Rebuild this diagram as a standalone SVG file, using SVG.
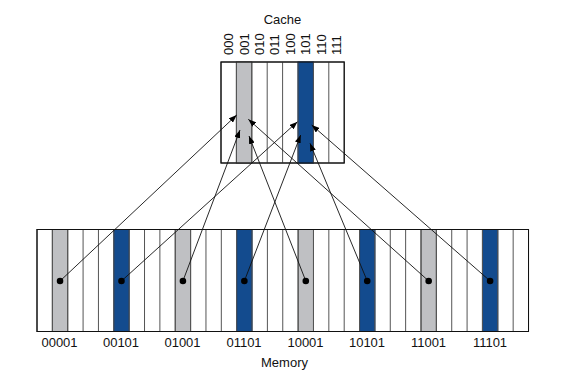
<svg xmlns="http://www.w3.org/2000/svg" width="588" height="381" viewBox="0 0 588 381">
<defs>
<marker id="ah" markerUnits="userSpaceOnUse" markerWidth="8" markerHeight="6" refX="8" refY="3" orient="auto">
<path d="M0,0 L8,3 L0,6 z" fill="#000"/>
</marker>
<style>
text{font-family:"Liberation Sans",Arial,sans-serif;font-size:13px;fill:#111}
.sep{stroke:#555;stroke-width:1;fill:none}
.box{fill:#fff;stroke:#111;stroke-width:1}
.g{fill:#bfc0c3;stroke:#444;stroke-width:1}
.b{fill:#134b8e;stroke:#0d2f5c;stroke-width:1}
.c{stroke:#111;stroke-width:0.9;fill:none;marker-end:url(#ah)}
.dot{fill:#000}
</style>
</defs>
<rect width="588" height="381" fill="#fff"/>

<g id="cache">
<text x="282.5" y="24" text-anchor="middle">Cache</text>
<rect class="box" x="221" y="62" width="123.2" height="101"/>
<rect class="g" x="236.4" y="62" width="15.4" height="101"/>
<rect class="b" x="298" y="62" width="15.4" height="101"/>
<path class="sep" d="M236.4,62V163M251.8,62V163M267.2,62V163M282.6,62V163M298,62V163M313.4,62V163M328.8,62V163"/>
<rect x="221" y="62" width="123.2" height="101" fill="none" stroke="#111" stroke-width="1"/>
<text transform="translate(233.2,55) rotate(-90)">000</text>
<text transform="translate(248.6,55) rotate(-90)">001</text>
<text transform="translate(264,55) rotate(-90)">010</text>
<text transform="translate(279.4,55) rotate(-90)">011</text>
<text transform="translate(294.8,55) rotate(-90)">100</text>
<text transform="translate(310.2,55) rotate(-90)">101</text>
<text transform="translate(325.6,55) rotate(-90)">110</text>
<text transform="translate(341,55) rotate(-90)">111</text>
</g>

<g id="memory">
<rect class="box" x="37" y="229.5" width="491.52" height="102"/>
<rect class="g" x="52.36" y="229.5" width="15.36" height="102"/>
<rect class="b" x="113.8" y="229.5" width="15.36" height="102"/>
<rect class="g" x="175.24" y="229.5" width="15.36" height="102"/>
<rect class="b" x="236.68" y="229.5" width="15.36" height="102"/>
<rect class="g" x="298.12" y="229.5" width="15.36" height="102"/>
<rect class="b" x="359.56" y="229.5" width="15.36" height="102"/>
<rect class="g" x="421" y="229.5" width="15.36" height="102"/>
<rect class="b" x="482.44" y="229.5" width="15.36" height="102"/>
<path class="sep" d="M52.36,229.5V331.5M67.72,229.5V331.5M83.08,229.5V331.5M98.44,229.5V331.5M113.8,229.5V331.5M129.16,229.5V331.5M144.52,229.5V331.5M159.88,229.5V331.5M175.24,229.5V331.5M190.6,229.5V331.5M205.96,229.5V331.5M221.32,229.5V331.5M236.68,229.5V331.5M252.04,229.5V331.5M267.4,229.5V331.5M282.76,229.5V331.5M298.12,229.5V331.5M313.48,229.5V331.5M328.84,229.5V331.5M344.2,229.5V331.5M359.56,229.5V331.5M374.92,229.5V331.5M390.28,229.5V331.5M405.64,229.5V331.5M421,229.5V331.5M436.36,229.5V331.5M451.72,229.5V331.5M467.08,229.5V331.5M482.44,229.5V331.5M497.8,229.5V331.5M513.16,229.5V331.5"/>
<rect x="37" y="229.5" width="491.52" height="102" fill="none" stroke="#111" stroke-width="1"/>
<text x="59.5" y="346.5" text-anchor="middle">00001</text>
<text x="121" y="346.5" text-anchor="middle">00101</text>
<text x="182.5" y="346.5" text-anchor="middle">01001</text>
<text x="244" y="346.5" text-anchor="middle">01101</text>
<text x="305.5" y="346.5" text-anchor="middle">10001</text>
<text x="367" y="346.5" text-anchor="middle">10101</text>
<text x="428.5" y="346.5" text-anchor="middle">11001</text>
<text x="490" y="346.5" text-anchor="middle">11101</text>
<text x="284.5" y="366.5" text-anchor="middle">Memory</text>
</g>

<g id="connectors">
<line class="c" x1="60.04" y1="281" x2="236.7" y2="115"/>
<line class="c" x1="182.92" y1="281" x2="240" y2="130"/>
<line class="c" x1="305.8" y1="281" x2="249" y2="136"/>
<line class="c" x1="428.68" y1="281" x2="248.3" y2="119.3"/>
<line class="c" x1="121.48" y1="281" x2="297.5" y2="121.7"/>
<line class="c" x1="244.36" y1="281" x2="300.7" y2="135"/>
<line class="c" x1="367.24" y1="281" x2="310" y2="143.3"/>
<line class="c" x1="490.12" y1="281" x2="311.7" y2="125"/>
<circle class="dot" cx="60.04" cy="281" r="3.3"/>
<circle class="dot" cx="121.48" cy="281" r="3.3"/>
<circle class="dot" cx="182.92" cy="281" r="3.3"/>
<circle class="dot" cx="244.36" cy="281" r="3.3"/>
<circle class="dot" cx="305.8" cy="281" r="3.3"/>
<circle class="dot" cx="367.24" cy="281" r="3.3"/>
<circle class="dot" cx="428.68" cy="281" r="3.3"/>
<circle class="dot" cx="490.12" cy="281" r="3.3"/>
</g>
</svg>
